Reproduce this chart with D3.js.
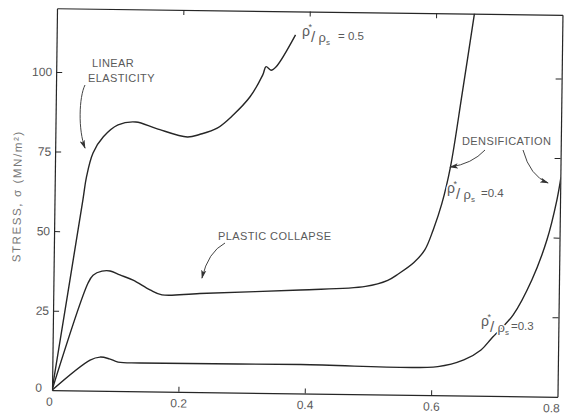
<!DOCTYPE html>
<html>
<head>
<meta charset="utf-8">
<script src="https://cdn.jsdelivr.net/npm/d3@7/dist/d3.min.js"></script>
<style>
  html, body { margin: 0; padding: 0; background: #fff; }
  svg { display: block; }
  text { font-family: "Liberation Sans", Arial, sans-serif; }
</style>
</head>
<body>
<svg id="chart" width="564" height="417"></svg>
<script>
// ---- data ----
const xTicks = [0, 0.2, 0.4, 0.6, 0.8];
const yTicks = [0, 25, 50, 75, 100];
const relDensities = ["0.5", "0.4", "0.3"];

// relative strain (x) , stress MN/m^2 (y)
const curve05x = [0, 0.045, 0.050, 0.060, 0.076, 0.099, 0.127, 0.160, 0.209, 0.229, 0.256, 0.281, 0.307, 0.327, 0.332, 0.340, 0.348, 0.378];
const curve05y = [0, 60.0, 67.0, 74.7, 79.8, 83.6, 84.6, 82.6, 80.1, 81.0, 83.0, 87.2, 92.9, 99.9, 102.5, 101.4, 102.5, 112.6];

const curve04x = [0, 0.0548, 0.0626, 0.0766, 0.0894, 0.105, 0.126, 0.153, 0.172, 0.232, 0.391, 0.494, 0.529, 0.546, 0.570, 0.587, 0.600, 0.613, 0.626, 0.643, 0.661];
const curve04y = [0, 33.8, 36.3, 37.6, 37.7, 36.5, 34.9, 31.9, 30.4, 31.0, 32.5, 33.9, 35.9, 38.0, 41.6, 45.6, 52.0, 60.2, 71.9, 95.0, 120.5];

const curve03x = [0, 0.0596, 0.0753, 0.090, 0.104, 0.139, 0.393, 0.610, 0.651, 0.678, 0.695, 0.728, 0.757, 0.780, 0.795, 0.801];
const curve03y = [0, 9.6, 10.6, 10.1, 9.1, 8.9, 9.1, 9.0, 11.2, 14.4, 18.2, 25.5, 36.6, 49.2, 61.8, 69.0];

// ---- layout ----
const W = 564, H = 417;
const pLeft = 54.5, pRight = 560, pTop = 11.5, pBottom = 393.5;
const ink = "#262626", txt = "#5a5a5a";

const svg = d3.select("#chart");
svg.append("rect").attr("width", W).attr("height", H).attr("fill", "#fff");

const x = d3.scaleLinear().domain([0, 0.8]).range([pLeft, pRight]);
const y = d3.scaleLinear().domain([0, 120]).range([pBottom, pTop]);

// scanned figure is rotated slightly clockwise
const g = svg.append("g").attr("transform", "rotate(0.75, 305, 202)");

g.append("defs").append("clipPath").attr("id", "plotclip")
  .append("rect").attr("x", pLeft).attr("y", pTop).attr("width", pRight - pLeft).attr("height", pBottom - pTop);

function styleAxis(sel) {
  sel.selectAll(".domain").attr("stroke", ink).attr("stroke-width", 1.2);
  sel.selectAll(".tick line").attr("stroke", ink).attr("stroke-width", 1);
  sel.selectAll(".tick text").attr("fill", txt).attr("font-size", 12);
}

// bottom
const gx = g.append("g").attr("transform", `translate(0,${pBottom})`)
  .call(d3.axisBottom(x).tickValues(xTicks).tickSizeInner(-5).tickSizeOuter(0).tickPadding(7)
    .tickFormat(d => d === 0 ? "0" : d3.format(".1f")(d)));
styleAxis(gx);
gx.selectAll(".tick").filter(d => d === 0).select("text").attr("dx", -3);
gx.selectAll(".tick").filter(d => d === 0.8).select("text").attr("text-anchor", "end").attr("dx", 2);
gx.selectAll(".tick").filter(d => d === 0 || d === 0.8).select("line").remove();

// left
const gy = g.append("g").attr("transform", `translate(${pLeft},0)`)
  .call(d3.axisLeft(y).tickValues(yTicks).tickSizeInner(-6).tickSizeOuter(0).tickPadding(4));
styleAxis(gy);
gy.selectAll(".tick").filter(d => d === 0).select("text").attr("dx", -6).attr("dy", "0.1em");
gy.selectAll(".tick").filter(d => d === 0).select("line").remove();

// top
const gt = g.append("g").attr("transform", `translate(0,${pTop})`)
  .call(d3.axisTop(x).tickValues(xTicks.filter(d => d > 0 && d < 0.8)).tickSizeInner(-5).tickSizeOuter(0).tickFormat(""));
styleAxis(gt);

// right
const gr = g.append("g").attr("transform", `translate(${pRight},0)`)
  .call(d3.axisRight(y).tickValues(yTicks.filter(d => d > 0)).tickSizeInner(-6).tickSizeOuter(0).tickFormat(""));
styleAxis(gr);

// curves
const line = d3.line().x(d => x(d[0])).y(d => y(d[1])).curve(d3.curveCatmullRom.alpha(0.5));
const curves = [
  d3.zip(curve05x, curve05y),
  d3.zip(curve04x, curve04y),
  d3.zip(curve03x, curve03y)
];
g.append("g").attr("clip-path", "url(#plotclip)")
  .selectAll("path").data(curves).join("path")
  .attr("d", line).attr("fill", "none").attr("stroke", ink)
  .attr("stroke-width", 1.4).attr("stroke-linejoin", "round");

// y axis title
g.append("text")
  .attr("transform", "translate(21,200) rotate(-90)")
  .attr("text-anchor", "middle").attr("fill", "#777")
  .attr("font-size", 11.5).attr("letter-spacing", 1.6)
  .text("STRESS, σ (MN/m²)");

// ---- annotations (screen space) ----
const ann = svg.append("g");
const defs = svg.append("defs");
defs.append("marker").attr("id", "ah").attr("markerUnits", "userSpaceOnUse")
  .attr("viewBox", "0 -3 9 6").attr("refX", 8).attr("refY", 0)
  .attr("markerWidth", 9).attr("markerHeight", 6).attr("orient", "auto")
  .append("path").attr("d", "M0,-2.6L9,0L0,2.6L2,0Z").attr("fill", "#333");

const arrows = [
  "M85,85 C79,97 78,130 85,148",
  "M225,243 Q208,252 202,278",
  "M485,150 Q472,164 450,167",
  "M523,150 Q530,176 548,183"
];
ann.selectAll("path.arr").data(arrows).join("path").attr("class", "arr")
  .attr("d", d => d).attr("fill", "none").attr("stroke", "#444").attr("stroke-width", 1)
  .attr("marker-end", "url(#ah)");

function label(t, px, py) {
  ann.append("text").attr("x", px).attr("y", py).attr("fill", txt)
    .attr("font-size", 11).attr("letter-spacing", 0.4).text(t);
}
label("LINEAR", 92, 67);
label("ELASTICITY", 88, 82);
label("PLASTIC COLLAPSE", 218, 240);
label("DENSIFICATION", 462, 145);

function ratio(px, py, value, gap) {
  const r = ann.append("g").attr("fill", txt);
  const halo = sel => sel.attr("stroke", "#fff").attr("stroke-width", 3).attr("paint-order", "stroke");
  r.append("text").attr("x", px).attr("y", py - 4).attr("font-size", 14).text("ρ").call(halo);
  r.append("text").attr("x", px + 6.5).attr("y", py - 10).attr("font-size", 9).text("*");
  r.append("text").attr("x", px + 9).attr("y", py + 2).attr("font-size", 15).text("/").call(halo);
  r.append("text").attr("x", px + 16.5).attr("y", py + 2).attr("font-size", 13).text("ρ").call(halo);
  r.append("text").attr("x", px + 24).attr("y", py + 5).attr("font-size", 8).text("s");
  r.append("text").attr("x", px + gap).attr("y", py).attr("font-size", 11.5).text(value);
}
ratio(302, 40, "= " + relDensities[0], 36);
ratio(447, 197, "=" + relDensities[1], 34);
ratio(481, 330, "=" + relDensities[2], 30);
</script>
</body>
</html>
